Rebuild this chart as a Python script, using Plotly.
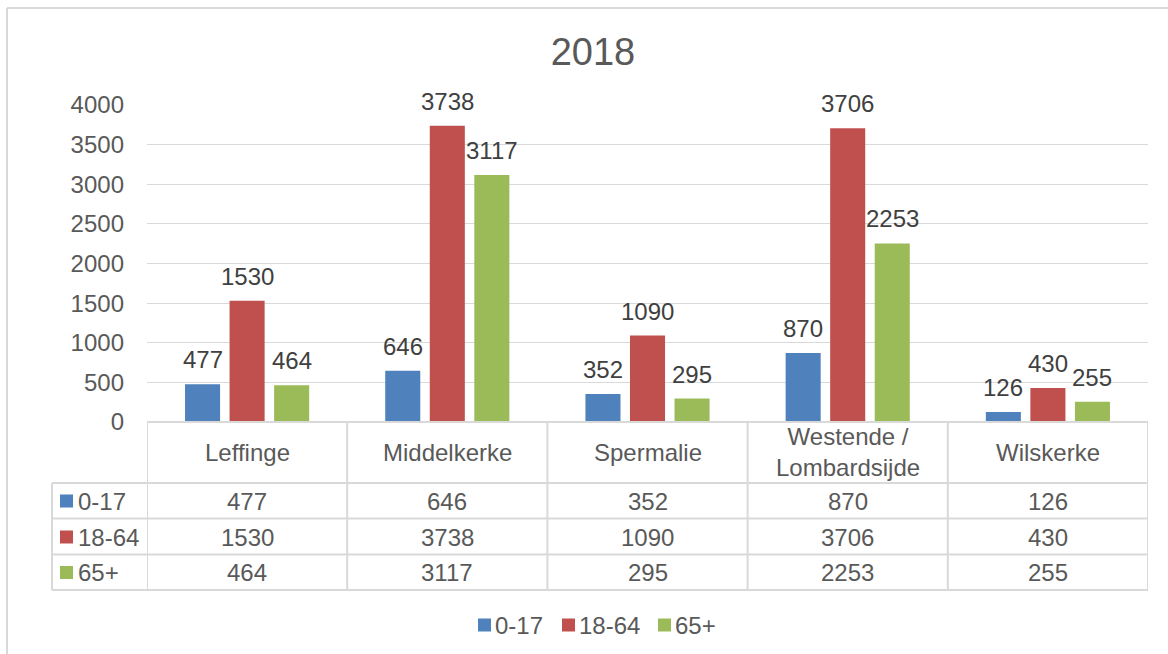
import plotly.graph_objects as go

# ---- data ----
title_text = "2018"
categories = ["Leffinge", "Middelkerke", "Spermalie", "Westende / Lombardsijde", "Wilskerke"]
series_names = ["0-17", "18-64", "65+"]
values_0_17 = [477, 646, 352, 870, 126]
values_18_64 = [1530, 3738, 1090, 3706, 430]
values_65_plus = [464, 3117, 295, 2253, 255]
y_ticks = [0, 500, 1000, 1500, 2000, 2500, 3000, 3500, 4000]

series_values = [values_0_17, values_18_64, values_65_plus]
colors = ["#4F81BD", "#C0504D", "#9BBB59"]

FONT = "Arial, 'Liberation Sans', sans-serif"
TXT = "#595959"
LINE = "#D9D9D9"
FS = 24
W, H = 1168, 654
PL, PR, PT, PB = 147, 1148, 105, 422  # plot area pixels


def px_x(p):
    return (p - PL) / (PR - PL)


def px_y(p):
    return (PB - p) / (PB - PT)


fig = go.Figure()
for name, vals, col in zip(series_names, series_values, colors):
    fig.add_trace(go.Bar(x=categories, y=vals, name=name, marker_color=col,
                         marker_line_width=0, showlegend=False))

shapes = []
annotations = []

# data labels above bars
slot_px = 44.5
for i, (vals, name) in enumerate(zip(series_values, series_names)):
    for c, v in zip(categories, vals):
        annotations.append(dict(x=c, y=v, xref="x", yref="y", text=str(v), showarrow=False,
                                xanchor="center", yanchor="bottom", xshift=(i - 1) * slot_px,
                                yshift=9, font=dict(family=FONT, size=FS, color="#404040")))

# ---- data table ----
row_lines = [483, 518.5, 554.5, 590]
row_centers = [501, 537, 572.5]
shapes.append(dict(type="line", xref="paper", yref="paper", x0=0, x1=px_x(PR),
                   y0=px_y(PB), y1=px_y(PB), line=dict(color=LINE, width=2)))
for k in range(len(categories) + 1):
    shapes.append(dict(type="line", xref="x", yref="paper", x0=k - 0.5, x1=k - 0.5,
                       y0=px_y(PB), y1=px_y(row_lines[-1]), line=dict(color=LINE, width=2)))
for r in row_lines:
    shapes.append(dict(type="line", xref="paper", yref="paper", x0=px_x(52), x1=px_x(PR),
                       y0=px_y(r), y1=px_y(r), line=dict(color=LINE, width=2)))
shapes.append(dict(type="line", xref="paper", yref="paper", x0=px_x(52), x1=px_x(52),
                   y0=px_y(row_lines[0]), y1=px_y(row_lines[-1]), line=dict(color=LINE, width=2)))

for c in categories:
    annotations.append(dict(x=c, y=px_y(452), xref="x", yref="paper",
                            text=c.replace(" / ", " /<br>"), showarrow=False,
                            xanchor="center", yanchor="middle",
                            font=dict(family=FONT, size=FS, color=TXT)))
for name, vals, col, yc in zip(series_names, series_values, colors, row_centers):
    shapes.append(dict(type="rect", xref="paper", yref="paper", x0=px_x(60), x1=px_x(73),
                       y0=px_y(yc - 6.5), y1=px_y(yc + 6.5), fillcolor=col, line=dict(width=0)))
    annotations.append(dict(x=px_x(76), y=px_y(yc), xref="paper", yref="paper", text=name,
                            showarrow=False, xanchor="left", yanchor="middle",
                            font=dict(family=FONT, size=FS, color=TXT)))
    for c, v in zip(categories, vals):
        annotations.append(dict(x=c, y=px_y(yc), xref="x", yref="paper", text=str(v),
                                showarrow=False, xanchor="center", yanchor="middle",
                                font=dict(family=FONT, size=FS, color=TXT)))

# ---- bottom legend ----
legend_x = [478, 562, 658]
legend_yc = 625
for name, col, lx in zip(series_names, colors, legend_x):
    shapes.append(dict(type="rect", xref="paper", yref="paper", x0=px_x(lx), x1=px_x(lx + 13),
                       y0=px_y(legend_yc - 6.5), y1=px_y(legend_yc + 6.5), fillcolor=col,
                       line=dict(width=0)))
    annotations.append(dict(x=px_x(lx + 15), y=px_y(legend_yc), xref="paper", yref="paper",
                            text=name, showarrow=False, xanchor="left", yanchor="middle",
                            font=dict(family=FONT, size=FS, color=TXT)))

# ---- outer frame (top and left border) ----
shapes.append(dict(type="line", xref="paper", yref="paper", x0=px_x(7), x1=px_x(W),
                   y0=px_y(8), y1=px_y(8), line=dict(color=LINE, width=2)))
shapes.append(dict(type="line", xref="paper", yref="paper", x0=px_x(7), x1=px_x(7),
                   y0=px_y(8), y1=px_y(H), line=dict(color=LINE, width=2)))

fig.update_layout(
    width=W, height=H,
    margin=dict(l=PL, r=W - PR, t=PT, b=H - PB, pad=0),
    paper_bgcolor="white", plot_bgcolor="white",
    barmode="group", bargap=0.3325, bargroupgap=0.213,
    title=dict(text=title_text, x=px_x(593), xref="paper", xanchor="center",
               y=1 - 52 / H, yref="container", yanchor="middle",
               font=dict(family=FONT, size=38, color=TXT)),
    xaxis=dict(showticklabels=False, showgrid=False, zeroline=False, showline=False,
               ticks="", range=[-0.5, len(categories) - 0.5]),
    yaxis=dict(range=[0, 4000], tickvals=y_ticks, showgrid=True, gridcolor=LINE, gridwidth=1,
               zeroline=False, showline=False, ticks="", ticklabelstandoff=22,
               tickfont=dict(family=FONT, size=FS, color=TXT)),
    shapes=shapes, annotations=annotations,
)

fig.write_html("out.html", config={"displayModeBar": False},
               post_script="document.body.style.margin='0';document.body.style.overflow='hidden';")
